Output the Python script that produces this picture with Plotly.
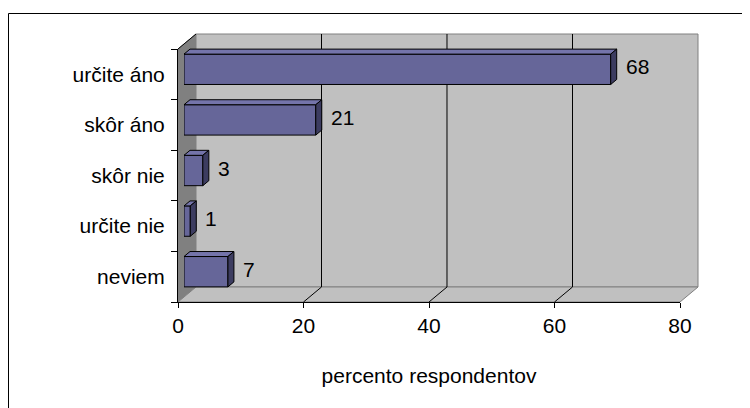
import plotly.graph_objects as go

categories = ['určite áno', 'skôr áno', 'skôr nie', 'určite nie', 'neviem']
values = [68, 21, 3, 1, 7]
x_ticks = [0, 20, 40, 60, 80]
axis_title = 'percento respondentov'

W, H = 750, 408
OFF = 8  # the page body adds an 8px margin, so layout pixels are shifted back
# front plane of the 3D box (pixels in the screenshot)
fx0, fx1, fy0, fy1 = 178 - OFF, 680 - OFF, 49 - OFF, 302 - OFF
px_x = (fx1 - fx0) / 80
px_y = (fy1 - fy0) / len(categories)
# full depth of the box in data units
DX = 18 / px_x
DY = 15 / px_y
bar_w = 0.6
font = 'Liberation Sans, Arial, sans-serif'
n = len(categories)
ytop, ybot = -0.5, n - 0.5

fig = go.Figure()

# invisible trace so the front (axis) subplot gets drawn
fig.add_trace(go.Scatter(x=x_ticks, y=[ybot] * len(x_ticks), mode='markers',
                         marker=dict(opacity=0), hoverinfo='skip'))

# bars sit one third deep into the box, so they get their own shifted axes
fig.add_trace(go.Bar(
    x=values, y=list(range(n)), orientation='h', width=bar_w,
    marker=dict(color='#666699', line=dict(color='black', width=1)),
    xaxis='x2', yaxis='y2', hoverinfo='skip'))

dx, dy = DX / 3, DY / 3
tx, ty, sx, sy = [], [], [], []
for i, v in enumerate(values):
    top = i - bar_w / 2
    bot = i + bar_w / 2
    tx += [0, v, v + dx, dx, 0, None]
    ty += [top, top, top - dy, top - dy, top, None]
    sx += [v, v + dx, v + dx, v, v, None]
    sy += [top, top - dy, bot - dy, bot, top, None]

fig.add_trace(go.Scatter(x=tx, y=ty, fill='toself', fillcolor='#7474aa', mode='lines',
                         line=dict(color='black', width=1), xaxis='x2', yaxis='y2',
                         hoverinfo='skip'))
fig.add_trace(go.Scatter(x=sx, y=sy, fill='toself', fillcolor='#3c3c60', mode='lines',
                         line=dict(color='black', width=1), xaxis='x2', yaxis='y2',
                         hoverinfo='skip'))

for i, v in enumerate(values):
    fig.add_annotation(x=v + dx, y=i - dy / 2, xref='x2', yref='y2', text=str(v),
                       showarrow=False, xanchor='left', xshift=7,
                       font=dict(size=21, color='black', family=font))


# map (value, category position, depth 0..1) to paper coords of the box
def to_paper(x, y, d=0):
    px = fx0 + (x + d * DX) * px_x
    py = fy0 + (y - ytop - d * DY) * px_y
    return px / W, 1 - py / H


def path(pts):
    return 'M ' + ' L '.join('{:.5f},{:.5f}'.format(*to_paper(*p)) for p in pts) + ' Z'


def line(pts):
    return 'M ' + ' L '.join('{:.5f},{:.5f}'.format(*to_paper(*p)) for p in pts)


wall = dict(type='path', xref='paper', yref='paper', layer='below')
shapes = [
    # left wall
    dict(wall, path=path([(0, ytop), (0, ytop, 1), (0, ybot, 1), (0, ybot)]),
         fillcolor='#808080', line=dict(color='#808080', width=1)),
    # back wall
    dict(wall, path=path([(0, ytop, 1), (80, ytop, 1), (80, ybot, 1), (0, ybot, 1)]),
         fillcolor='#c0c0c0', line=dict(color='#808080', width=1)),
    # floor
    dict(wall, path=path([(0, ybot), (80, ybot), (80, ybot, 1), (0, ybot, 1)]),
         fillcolor='#c0c0c0', line=dict(color='#808080', width=1)),
]
for t in x_ticks[1:-1]:
    shapes.append(dict(wall, path=line([(t, ybot), (t, ybot, 1), (t, ytop, 1)]),
                       line=dict(color='black', width=1)))
shapes.append(dict(wall, path=line([(0, ytop), (0, ytop, 1)]), line=dict(color='black', width=1)))
# chart border
shapes.append(dict(type='rect', xref='paper', yref='paper', x0=(8.5 - OFF) / W, y0=-0.1,
                   x1=1.1, y1=1 - (13.5 - OFF) / H, line=dict(color='black', width=1)))

fig.update_layout(
    width=W, height=H, margin=dict(l=0, r=0, t=0, b=0, autoexpand=False),
    paper_bgcolor='white', plot_bgcolor='rgba(0,0,0,0)',
    showlegend=False, shapes=shapes,
    font=dict(family=font, size=21, color='black'),
    xaxis=dict(domain=[fx0 / W, fx1 / W], range=[0, 80], tickvals=x_ticks,
               ticks='outside', ticklen=5, tickcolor='black', showline=True,
               linecolor='black', showgrid=False, zeroline=False, anchor='y',
               automargin=False,
               title=dict(text=axis_title, standoff=32, font=dict(size=21))),
    yaxis=dict(domain=[1 - fy1 / H, 1 - fy0 / H], range=[ybot, ytop],
               tickvals=list(range(n)), ticktext=categories, ticks='',
               showline=True, linecolor='black', showgrid=False, zeroline=False,
               ticklabelstandoff=8, anchor='x', automargin=False,
               minor=dict(tickvals=[k - 0.5 for k in range(n + 1)], ticks='outside',
                          ticklen=6, tickcolor='black', showgrid=False)),
    xaxis2=dict(domain=[(fx0 + DX / 3 * px_x) / W, (fx1 + DX / 3 * px_x) / W], range=[0, 80],
                visible=False, anchor='y2', automargin=False),
    yaxis2=dict(domain=[1 - (fy1 - DY / 3 * px_y) / H, 1 - (fy0 - DY / 3 * px_y) / H],
                range=[ybot, ytop], visible=False, anchor='x2', automargin=False),
)

fig.write_html('out.html', config={'displayModeBar': False})
